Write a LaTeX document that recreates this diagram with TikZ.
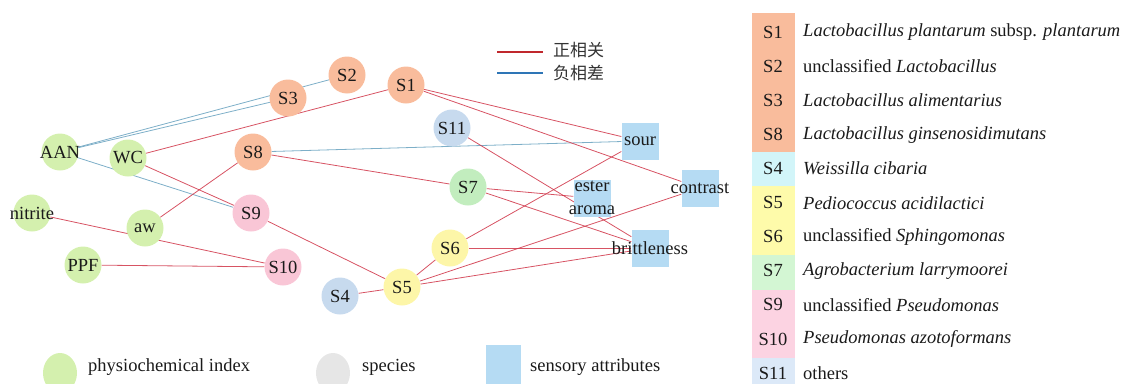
\documentclass[tikz,border=0pt]{standalone}
\usepackage{fontspec}
\setmainfont{Liberation Serif}
\newfontfamily\cjk{Noto Sans CJK SC}
\usetikzlibrary{backgrounds,shapes.geometric}
\definecolor{physG}{HTML}{D4F0AE}
\definecolor{salmon}{HTML}{F9BC9C}
\definecolor{greyB}{HTML}{C7DAEE}
\definecolor{yell}{HTML}{FDF6A8}
\definecolor{grn}{HTML}{C2EDBE}
\definecolor{pnk}{HTML}{F9C6D6}
\definecolor{sqB}{HTML}{B5DBF3}
\definecolor{legGrey}{HTML}{E6E6E6}
\definecolor{colCyan}{HTML}{D2F5F9}
\definecolor{colYell}{HTML}{FEFBAA}
\definecolor{colGrn}{HTML}{D3F6D3}
\definecolor{colPnk}{HTML}{FCD3E2}
\definecolor{colBlue}{HTML}{DCE9F8}
\definecolor{posR}{HTML}{D03548}
\definecolor{negB}{HTML}{6FA6C2}
\definecolor{legR}{HTML}{C0282D}
\definecolor{legB}{HTML}{2E75B6}
\definecolor{txt}{HTML}{1A1A1A}
\newcommand{\ov}[1]{\makebox[0pt]{#1}}
\begin{document}
\begin{tikzpicture}[x=1pt,y=-1pt,
  font=\fontsize{18.5}{23}\selectfont, text=txt,
  circ/.style={circle, minimum size=37pt, inner sep=0pt},
  phys/.style={circ, fill=physG},
  sal/.style={circ, fill=salmon},
  gry/.style={circ, fill=greyB},
  yel/.style={circ, fill=yell},
  grnn/.style={circ, fill=grn},
  pk/.style={circ, fill=pnk},
  sq/.style={rectangle, minimum size=37pt, inner sep=0pt, fill=sqB},
  posedge/.style={draw=posR, line width=0.8pt, opacity=0.85},
  negedge/.style={draw=negB, line width=0.8pt, opacity=0.9},
  legline/.style={line width=1.6pt},
  legtxt/.style={anchor=west, inner sep=0pt},
  cell/.style={anchor=center, inner sep=0pt}]
\useasboundingbox (0,0) rectangle (1131,383);
\clip (0,0) rectangle (1131,383);
% physiochemical nodes
\node[phys] (AAN) at (60,152) {\ov{AAN}};
\node[phys] (WC) at (128,158) {WC};
\node[phys] (nitrite) at (32,213) {\ov{nitrite}};
\node[phys] (aw) at (145,228) {aw};
\node[phys] (PPF) at (83,265) {PPF};
% species nodes
\node[sal] (S3) at (288,98) {S3};
\node[sal] (S2) at (347,75) {S2};
\node[sal] (S1) at (406,85) {S1};
\node[sal] (S8) at (253,152) {S8};
\node[pk] (S9) at (251,213) {S9};
\node[pk] (S10) at (283,267) {S10};
\node[gry] (S4) at (340,296) {S4};
\node[yel] (S5) at (402,287) {S5};
\node[yel] (S6) at (450,248) {S6};
\node[grnn] (S7) at (468,187) {S7};
\node[gry] (S11) at (452,128) {S11};
% sensory nodes
\node[sq] (sour) at (640,141) {\ov{sour}};
\node[sq] (ester) at (592,198) {};
\node[align=center, inner sep=0pt] (estertxt) at (592,198) {ester\\aroma};
\node[sq] (contrast) at (700,188) {\ov{contrast}};
\node[sq] (brit) at (650,248) {\ov{brittleness}};
% edges
\begin{scope}[on background layer]
\draw[negedge] (AAN) -- (S2);
\draw[negedge] (AAN) -- (S3);
\draw[negedge] (AAN) -- (S9);
\draw[negedge] (S8) -- (sour);
\draw[posedge] (WC) -- (S1);
\draw[posedge] (WC) -- (S9);
\draw[posedge] (aw) -- (S8);
\draw[posedge] (nitrite) -- (S10);
\draw[posedge] (PPF) -- (S10);
\draw[posedge] (S8) -- (S7);
\draw[posedge] (S9) -- (S5);
\draw[posedge] (S4) -- (S5);
\draw[posedge] (S1) -- (sour);
\draw[posedge] (S1) -- (contrast);
\draw[posedge] (S11) -- (brit);
\draw[posedge] (S7) -- (ester);
\draw[posedge] (S7) -- (brit);
\draw[posedge] (S6) -- (sour);
\draw[posedge] (S6) -- (brit);
\draw[posedge] (S5) -- (S6);
\draw[posedge] (S5) -- (contrast);
\draw[posedge] (S5) -- (brit);
\end{scope}
% top legend
\coordinate (lr1) at (497,52); \coordinate (lr2) at (543,52);
\coordinate (lb1) at (497,73); \coordinate (lb2) at (543,73);
\draw[legline, legR] (lr1) -- (lr2);
\draw[legline, legB] (lb1) -- (lb2);
\node[legtxt, text=black!80, font=\cjk\fontsize{17}{20}\selectfont] (posl) at (553,50) {正相关};
\node[legtxt, text=black!80, font=\cjk\fontsize{17}{20}\selectfont] (negl) at (553,73) {负相差};
% bottom legend
\node[ellipse, fill=physG, minimum width=34pt, minimum height=40pt, inner sep=0pt] (lgP) at (60,373) {};
\node[legtxt] (lgPt) at (88,367) {physiochemical index};
\node[ellipse, fill=legGrey, minimum width=34pt, minimum height=40pt, inner sep=0pt] (lgS) at (333,373) {};
\node[legtxt] (lgSt) at (362,367) {species};
\node[rectangle, fill=sqB, minimum width=35pt, minimum height=45pt, inner sep=0pt] (lgQ) at (503.5,367.5) {};
\node[legtxt] (lgQt) at (530,367) {sensory attributes};
% right legend colour column
\fill[salmon] (752,13) rectangle (795,152);
\fill[colCyan] (752,152) rectangle (795,186);
\fill[colYell] (752,186) rectangle (795,255);
\fill[colGrn] (752,255) rectangle (795,290);
\fill[colPnk] (752,290) rectangle (795,358);
\fill[colBlue] (752,358) rectangle (795,390);
\foreach \i/\lab/\name in {
  0/S1/{\textit{Lactobacillus plantarum} subsp. \textit{plantarum}},
  1/S2/{unclassified \textit{Lactobacillus}},
  2/S3/{\textit{Lactobacillus alimentarius}},
  3/S8/{\textit{Lactobacillus ginsenosidimutans}},
  4/S4/{\textit{Weissilla cibaria}},
  5/S5/{\textit{Pediococcus acidilactici}},
  6/S6/{unclassified \textit{Sphingomonas}},
  7/S7/{\textit{Agrobacterium larrymoorei}},
  8/S9/{unclassified \textit{Pseudomonas}},
  9/S10/{\textit{Pseudomonas azotoformans}},
  10/S11/{others}}{
  \node[cell] (key\lab) at (773,32.5+34.05*\i) {\lab};
  \node[legtxt] (name\lab) at (803,32.5+34.05*\i) {\name};
}
\end{tikzpicture}
\end{document}
